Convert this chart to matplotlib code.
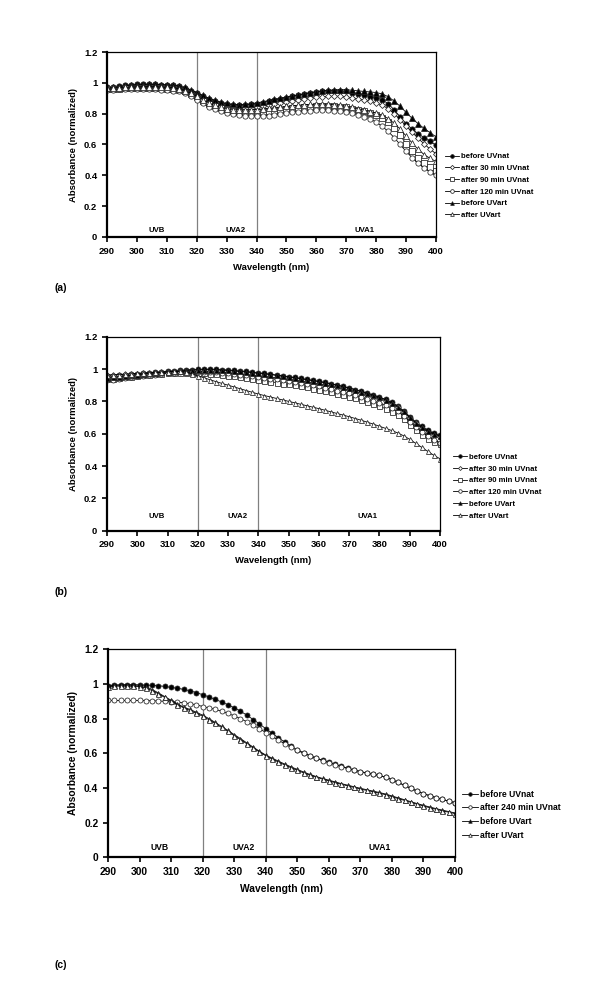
import numpy as np
import matplotlib
matplotlib.use("Agg")
import matplotlib.pyplot as plt

plt.rcParams['font.family'] = ['Liberation Sans', 'DejaVu Sans']
plt.rcParams['font.weight'] = 'bold'

# wavelength grid (nm), one reading every 2 nm
wl = np.arange(290, 401, 2)

# ---- panel (a) ----
a_before_nat = [0.970, 0.975, 0.980, 0.985, 0.988, 0.990, 0.992, 0.992, 0.990, 0.988,
                0.986, 0.983, 0.978, 0.965, 0.950, 0.932, 0.915, 0.898, 0.884, 0.872,
                0.864, 0.858, 0.855, 0.856, 0.860, 0.865, 0.872, 0.880, 0.888, 0.896,
                0.904, 0.912, 0.920, 0.928, 0.935, 0.941, 0.946, 0.949, 0.950, 0.948,
                0.944, 0.937, 0.928, 0.918, 0.910, 0.903, 0.890, 0.865, 0.825, 0.780,
                0.735, 0.700, 0.670, 0.645, 0.620, 0.595]
a_after30 = [0.962, 0.964, 0.966, 0.968, 0.970, 0.971, 0.972, 0.972, 0.971, 0.970,
             0.969, 0.967, 0.963, 0.955, 0.942, 0.925, 0.906, 0.888, 0.872, 0.860,
             0.851, 0.845, 0.841, 0.839, 0.839, 0.842, 0.847, 0.853, 0.860, 0.867,
             0.874, 0.881, 0.888, 0.894, 0.900, 0.905, 0.909, 0.912, 0.913, 0.912,
             0.909, 0.903, 0.896, 0.888, 0.880, 0.870, 0.855, 0.832, 0.800, 0.762,
             0.720, 0.680, 0.640, 0.605, 0.570, 0.540]
a_after90 = [0.958, 0.960, 0.962, 0.964, 0.965, 0.966, 0.966, 0.966, 0.965, 0.964,
             0.962, 0.959, 0.954, 0.945, 0.928, 0.906, 0.884, 0.864, 0.848, 0.836,
             0.827, 0.820, 0.814, 0.810, 0.808, 0.808, 0.811, 0.815, 0.820, 0.825,
             0.830, 0.835, 0.839, 0.843, 0.846, 0.848, 0.850, 0.850, 0.848, 0.845,
             0.840, 0.833, 0.825, 0.815, 0.805, 0.793, 0.775, 0.748, 0.710, 0.660,
             0.605, 0.555, 0.515, 0.480, 0.452, 0.430]
a_after120 = [0.953, 0.955, 0.957, 0.958, 0.959, 0.959, 0.959, 0.958, 0.957, 0.956,
              0.954, 0.950, 0.944, 0.933, 0.913, 0.890, 0.866, 0.845, 0.828, 0.815,
              0.805, 0.797, 0.790, 0.785, 0.782, 0.782, 0.784, 0.788, 0.793, 0.798,
              0.803, 0.808, 0.812, 0.816, 0.819, 0.821, 0.822, 0.822, 0.820, 0.816,
              0.810, 0.802, 0.792, 0.780, 0.765, 0.745, 0.718, 0.685, 0.645, 0.600,
              0.555, 0.515, 0.480, 0.450, 0.423, 0.400]
a_before_art = [0.966, 0.970, 0.975, 0.980, 0.984, 0.987, 0.989, 0.990, 0.990, 0.989,
                0.987, 0.985, 0.980, 0.970, 0.955, 0.937, 0.918, 0.900, 0.886, 0.874,
                0.866, 0.861, 0.859, 0.860, 0.864, 0.870, 0.877, 0.885, 0.893, 0.901,
                0.908, 0.915, 0.922, 0.930, 0.937, 0.943, 0.948, 0.952, 0.955, 0.956,
                0.955, 0.952, 0.948, 0.944, 0.941, 0.937, 0.928, 0.910, 0.882, 0.848,
                0.808, 0.770, 0.735, 0.705, 0.677, 0.650]
a_after_art = [0.965, 0.967, 0.969, 0.971, 0.973, 0.974, 0.975, 0.975, 0.974, 0.973,
               0.971, 0.968, 0.962, 0.950, 0.933, 0.912, 0.890, 0.870, 0.853, 0.841,
               0.833, 0.827, 0.824, 0.823, 0.824, 0.827, 0.831, 0.835, 0.839, 0.843,
               0.847, 0.851, 0.855, 0.858, 0.860, 0.862, 0.862, 0.861, 0.858, 0.854,
               0.848, 0.840, 0.832, 0.823, 0.814, 0.804, 0.790, 0.768, 0.738, 0.700,
               0.655, 0.610, 0.570, 0.535, 0.510, 0.490]

# ---- panel (b) ----
b_before_nat = [0.955, 0.958, 0.961, 0.964, 0.968, 0.972, 0.975, 0.978, 0.981, 0.984,
                0.987, 0.990, 0.993, 0.995, 0.997, 0.998, 0.999, 0.999, 0.998, 0.997,
                0.994, 0.991, 0.988, 0.985, 0.981, 0.977, 0.973, 0.968, 0.963, 0.958,
                0.953, 0.948, 0.942, 0.936, 0.930, 0.924, 0.917, 0.909, 0.901, 0.892,
                0.883, 0.873, 0.862, 0.851, 0.839, 0.826, 0.812, 0.795, 0.772, 0.742,
                0.706, 0.672, 0.645, 0.622, 0.604, 0.590]
b_after30 = [0.962, 0.964, 0.966, 0.968, 0.970, 0.972, 0.974, 0.976, 0.978, 0.980,
             0.982, 0.984, 0.985, 0.986, 0.986, 0.986, 0.985, 0.984, 0.982, 0.979,
             0.976, 0.973, 0.970, 0.966, 0.962, 0.958, 0.954, 0.950, 0.946, 0.941,
             0.936, 0.931, 0.926, 0.920, 0.914, 0.908, 0.901, 0.894, 0.886, 0.878,
             0.869, 0.860, 0.850, 0.840, 0.829, 0.817, 0.803, 0.786, 0.764, 0.735,
             0.700, 0.665, 0.635, 0.612, 0.595, 0.580]
b_after90 = [0.938, 0.941, 0.945, 0.949, 0.953, 0.957, 0.961, 0.965, 0.968, 0.971,
             0.974, 0.976, 0.977, 0.978, 0.978, 0.977, 0.975, 0.972, 0.968, 0.964,
             0.959, 0.954, 0.949, 0.944, 0.938, 0.932, 0.927, 0.922, 0.916, 0.910,
             0.905, 0.899, 0.893, 0.886, 0.879, 0.872, 0.864, 0.856, 0.848, 0.839,
             0.829, 0.819, 0.808, 0.796, 0.784, 0.770, 0.755, 0.737, 0.715, 0.688,
             0.655, 0.622, 0.594, 0.570, 0.550, 0.535]
b_after120 = [0.930, 0.934, 0.939, 0.944, 0.949, 0.954, 0.958, 0.962, 0.966, 0.970,
              0.973, 0.976, 0.979, 0.981, 0.983, 0.984, 0.984, 0.983, 0.981, 0.978,
              0.974, 0.970, 0.966, 0.961, 0.956, 0.951, 0.946, 0.941, 0.936, 0.930,
              0.925, 0.919, 0.913, 0.906, 0.899, 0.892, 0.884, 0.876, 0.867, 0.858,
              0.849, 0.839, 0.828, 0.816, 0.804, 0.791, 0.777, 0.760, 0.738, 0.710,
              0.675, 0.640, 0.610, 0.585, 0.562, 0.545]
b_before_art = [0.945, 0.949, 0.953, 0.957, 0.961, 0.965, 0.969, 0.973, 0.976, 0.979,
                0.982, 0.985, 0.988, 0.991, 0.993, 0.995, 0.996, 0.996, 0.995, 0.993,
                0.991, 0.988, 0.985, 0.982, 0.978, 0.974, 0.970, 0.966, 0.961, 0.956,
                0.951, 0.946, 0.940, 0.934, 0.928, 0.922, 0.915, 0.908, 0.900, 0.891,
                0.882, 0.872, 0.861, 0.850, 0.838, 0.825, 0.810, 0.792, 0.768, 0.738,
                0.702, 0.668, 0.640, 0.617, 0.600, 0.585]
b_after_art = [0.962, 0.964, 0.966, 0.968, 0.970, 0.973, 0.975, 0.977, 0.979, 0.981,
               0.983, 0.985, 0.985, 0.982, 0.972, 0.958, 0.946, 0.934, 0.922, 0.911,
               0.900, 0.889, 0.878, 0.867, 0.856, 0.845, 0.836, 0.827, 0.818, 0.809,
               0.800, 0.791, 0.782, 0.773, 0.764, 0.755, 0.745, 0.735, 0.725, 0.715,
               0.705, 0.694, 0.683, 0.671, 0.659, 0.646, 0.633, 0.620, 0.605, 0.587,
               0.565, 0.540, 0.515, 0.490, 0.466, 0.445]

# ---- panel (c) ----
c_before_nat = [0.990, 0.992, 0.994, 0.995, 0.995, 0.995, 0.994, 0.992, 0.990, 0.986,
                0.980, 0.975, 0.969, 0.960, 0.950, 0.938, 0.925, 0.911, 0.896, 0.880,
                0.862, 0.843, 0.820, 0.795, 0.770, 0.742, 0.716, 0.690, 0.665, 0.642,
                0.621, 0.603, 0.587, 0.573, 0.560, 0.548, 0.536, 0.525, 0.514, 0.504,
                0.495, 0.487, 0.479, 0.472, 0.462, 0.448, 0.432, 0.415, 0.398, 0.382,
                0.367, 0.355, 0.344, 0.334, 0.324, 0.315]
c_after240 = [0.905, 0.905, 0.905, 0.905, 0.905, 0.905, 0.904, 0.903, 0.902, 0.900,
              0.898, 0.895, 0.891, 0.886, 0.880, 0.870, 0.862, 0.853, 0.843, 0.830,
              0.816, 0.800, 0.782, 0.762, 0.742, 0.720, 0.698, 0.676, 0.655, 0.635,
              0.617, 0.600, 0.585, 0.571, 0.558, 0.546, 0.534, 0.523, 0.512, 0.502,
              0.494, 0.486, 0.479, 0.472, 0.462, 0.448, 0.432, 0.415, 0.398, 0.382,
              0.367, 0.355, 0.344, 0.334, 0.324, 0.315]
c_before_art = [0.992, 0.994, 0.995, 0.995, 0.994, 0.993, 0.985, 0.968, 0.948, 0.927,
                0.906, 0.886, 0.866, 0.853, 0.837, 0.820, 0.800, 0.778, 0.755, 0.732,
                0.708, 0.685, 0.660, 0.636, 0.612, 0.590, 0.572, 0.555, 0.538, 0.522,
                0.507, 0.492, 0.478, 0.466, 0.455, 0.445, 0.435, 0.425, 0.416, 0.407,
                0.398, 0.390, 0.382, 0.374, 0.365, 0.354, 0.343, 0.332, 0.321, 0.310,
                0.300, 0.290, 0.281, 0.272, 0.264, 0.256]
c_after_art = [0.985, 0.987, 0.988, 0.988, 0.987, 0.985, 0.977, 0.962, 0.943, 0.922,
               0.901, 0.881, 0.862, 0.847, 0.831, 0.814, 0.794, 0.772, 0.749, 0.726,
               0.702, 0.679, 0.655, 0.631, 0.608, 0.586, 0.567, 0.550, 0.533, 0.517,
               0.502, 0.487, 0.474, 0.462, 0.451, 0.441, 0.431, 0.421, 0.412, 0.403,
               0.394, 0.386, 0.378, 0.370, 0.361, 0.350, 0.339, 0.328, 0.317, 0.306,
               0.296, 0.286, 0.277, 0.268, 0.260, 0.252]

# marker style per series name: (marker, filled)
styles = {
    'before UVnat': ('o', True),
    'after 30 min UVnat': ('D', False),
    'after 90 min UVnat': ('s', False),
    'after 120 min UVnat': ('o', False),
    'after 240 min UVnat': ('o', False),
    'before UVart': ('^', True),
    'after UVart': ('^', False),
}

panels = [
    {
        'rect': [107/600, 1-237/989, 329/600, 185/989],
        'series': [('before UVnat', a_before_nat), ('after 30 min UVnat', a_after30),
                   ('after 90 min UVnat', a_after90), ('after 120 min UVnat', a_after120),
                   ('before UVart', a_before_art), ('after UVart', a_after_art)],
        'ms': 3.8, 'fs': 6.8, 'text_y': 0.045, 'legfs': 5.6,
        'leg': (445/600, 1-186/989), 'tag': ('(a)', 1-288/989),
    },
    {
        'rect': [107/600, 1-530.7/989, 333/600, 194/989],
        'series': [('before UVnat', b_before_nat), ('after 30 min UVnat', b_after30),
                   ('after 90 min UVnat', b_after90), ('after 120 min UVnat', b_after120),
                   ('before UVart', b_before_art), ('after UVart', b_after_art)],
        'ms': 3.6, 'fs': 6.8, 'text_y': 0.087, 'legfs': 5.6,
        'leg': (453/600, 1-486.5/989), 'tag': ('(b)', 1-592/989),
    },
    {
        'rect': [108/600, 1-857.3/989, 347/600, 208/989],
        'series': [('before UVnat', c_before_nat), ('after 240 min UVnat', c_after240),
                   ('before UVart', c_before_art), ('after UVart', c_after_art)],
        'ms': 3.6, 'fs': 7.4, 'text_y': 0.058, 'legfs': 6.2,
        'leg': (462/600, 1-814.7/989), 'tag': ('(c)', 1-965/989),
    },
]

fig = plt.figure(figsize=(6.0, 9.89), dpi=100)

for p in panels:
    ax = fig.add_axes(p['rect'])
    for name, vals in p['series']:
        mk, filled = styles[name]
        ax.plot(wl, vals, color='black', linewidth=0.6, marker=mk,
                markersize=p['ms'] if mk != 'D' else p['ms'] * 0.8,
                markerfacecolor='black' if filled else 'white',
                markeredgecolor='#222222', markeredgewidth=0.55, label=name)
    ax.axvline(320, color='#808080', linewidth=0.9, zorder=0)
    ax.axvline(340, color='#808080', linewidth=0.9, zorder=0)
    ax.set_xlim(290, 400)
    ax.set_ylim(0, 1.2)
    ax.set_xticks(range(290, 401, 10))
    ax.set_yticks([0, 0.2, 0.4, 0.6, 0.8, 1.0, 1.2])
    ax.set_yticklabels(['0', '0.2', '0.4', '0.6', '0.8', '1', '1.2'])
    ax.tick_params(labelsize=p['fs'], width=1.2, length=3.5, direction='out')
    for lab in ax.get_xticklabels() + ax.get_yticklabels():
        lab.set_fontweight('bold')
    for side in ['left', 'bottom']:
        ax.spines[side].set_linewidth(1.6)
    for side in ['top', 'right']:
        ax.spines[side].set_linewidth(0.9)
    ax.set_xlabel('Wavelength (nm)', fontsize=p['fs'], fontweight='bold', labelpad=5)
    ax.set_ylabel('Absorbance (normalized)', fontsize=p['fs'], fontweight='bold', labelpad=4)
    for xx, txt in [(306.5, 'UVB'), (333, 'UVA2'), (376, 'UVA1')]:
        ax.text(xx, p['text_y'], txt, fontsize=p['legfs'], fontweight='bold',
                ha='center', va='center')
    ax.legend(loc='center left', bbox_to_anchor=p['leg'], bbox_transform=fig.transFigure,
              frameon=False, handlelength=1.8, handletextpad=0.3,
              labelspacing=0.55, borderpad=0, borderaxespad=0, markerscale=0.7,
              prop={'weight': 'bold', 'size': p['legfs']})
    fig.text(55/600, p['tag'][1], p['tag'][0], fontsize=7.5, fontweight='bold',
             ha='left', va='center')

fig.savefig('out.png', dpi=100)
